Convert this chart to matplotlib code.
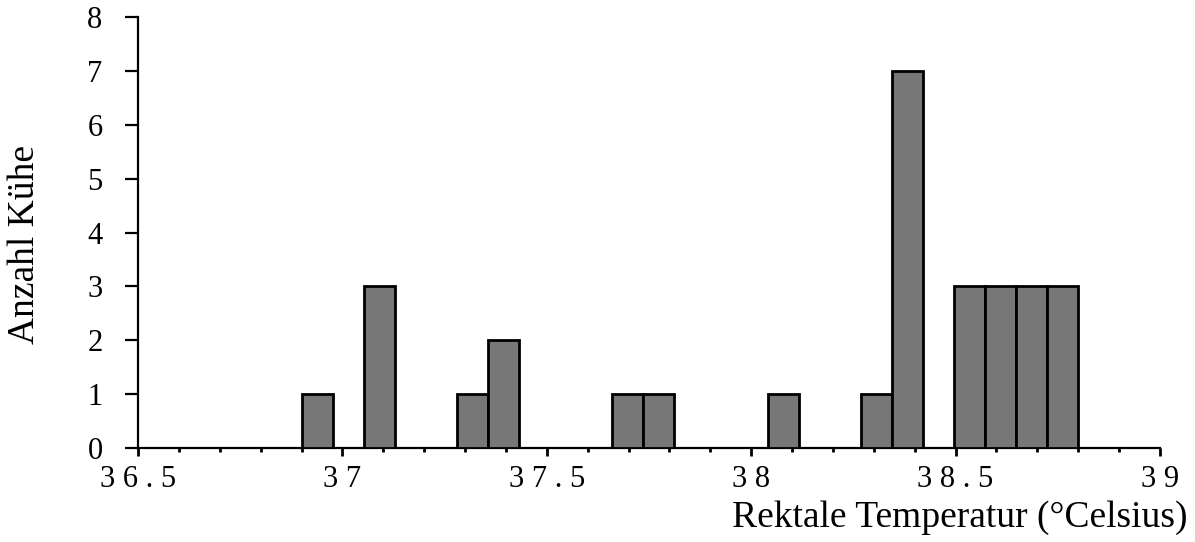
import numpy as np
import matplotlib
matplotlib.use("Agg")
import matplotlib.pyplot as plt
from matplotlib.ticker import MultipleLocator, FixedLocator

# histogram of rectal temperature, 25 bins from 36.9 to 38.8
bin_start = 36.9
bin_end = 38.8
counts = [1, 0, 3, 0, 0, 1, 2, 0, 0, 0, 1, 1, 0, 0, 0, 1, 0, 0, 1, 7, 0, 3, 3, 3, 3]
x_ticks = [36.5, 37.0, 37.5, 38.0, 38.5, 39.0]
x_ticklabels = ["3 6 . 5", "3 7", "3 7 . 5", "3 8", "3 8 . 5", "3 9"]
y_ticks = [0, 1, 2, 3, 4, 5, 6, 7, 8]

plt.rcParams['font.family'] = ['Liberation Serif', 'DejaVu Serif']

edges = np.linspace(bin_start, bin_end, len(counts) + 1)
counts = np.array(counts)
keep = counts > 0

fig = plt.figure(figsize=(11.95, 5.42), dpi=100)
ax = fig.add_axes([0.1155, 0.1734, 0.9707 - 0.1155, 0.9686 - 0.1734])
ax.bar(edges[:-1][keep], counts[keep], width=np.diff(edges)[keep], align='edge',
       color='#777777', edgecolor='black', linewidth=2, zorder=3)

ax.set_xlim(36.5, 39)
ax.set_ylim(0, 8)
ax.spines['top'].set_visible(False)
ax.spines['right'].set_visible(False)
ax.spines['left'].set_linewidth(1.6)
ax.spines['bottom'].set_linewidth(1.6)

ax.xaxis.set_major_locator(FixedLocator(x_ticks))
ax.set_xticklabels(x_ticklabels)
ax.xaxis.set_minor_locator(MultipleLocator(0.1))
ax.set_yticks(y_ticks)
ax.tick_params(axis='x', which='major', length=6, width=2, pad=6, labelsize=22)
ax.tick_params(axis='x', which='minor', length=3, width=2)
ax.tick_params(axis='y', which='major', length=9.5, width=1.6, pad=16, labelsize=22)

fig.text(1187 / 1195, 1 - 527 / 542, "Rektale Temperatur (°Celsius)",
         ha='right', va='baseline', fontsize=27)
fig.text(25 / 1195, 1 - 245 / 542, "Anzahl Kühe", rotation=90,
         ha='center', va='center', fontsize=27)

fig.savefig("out.png", dpi=100)
